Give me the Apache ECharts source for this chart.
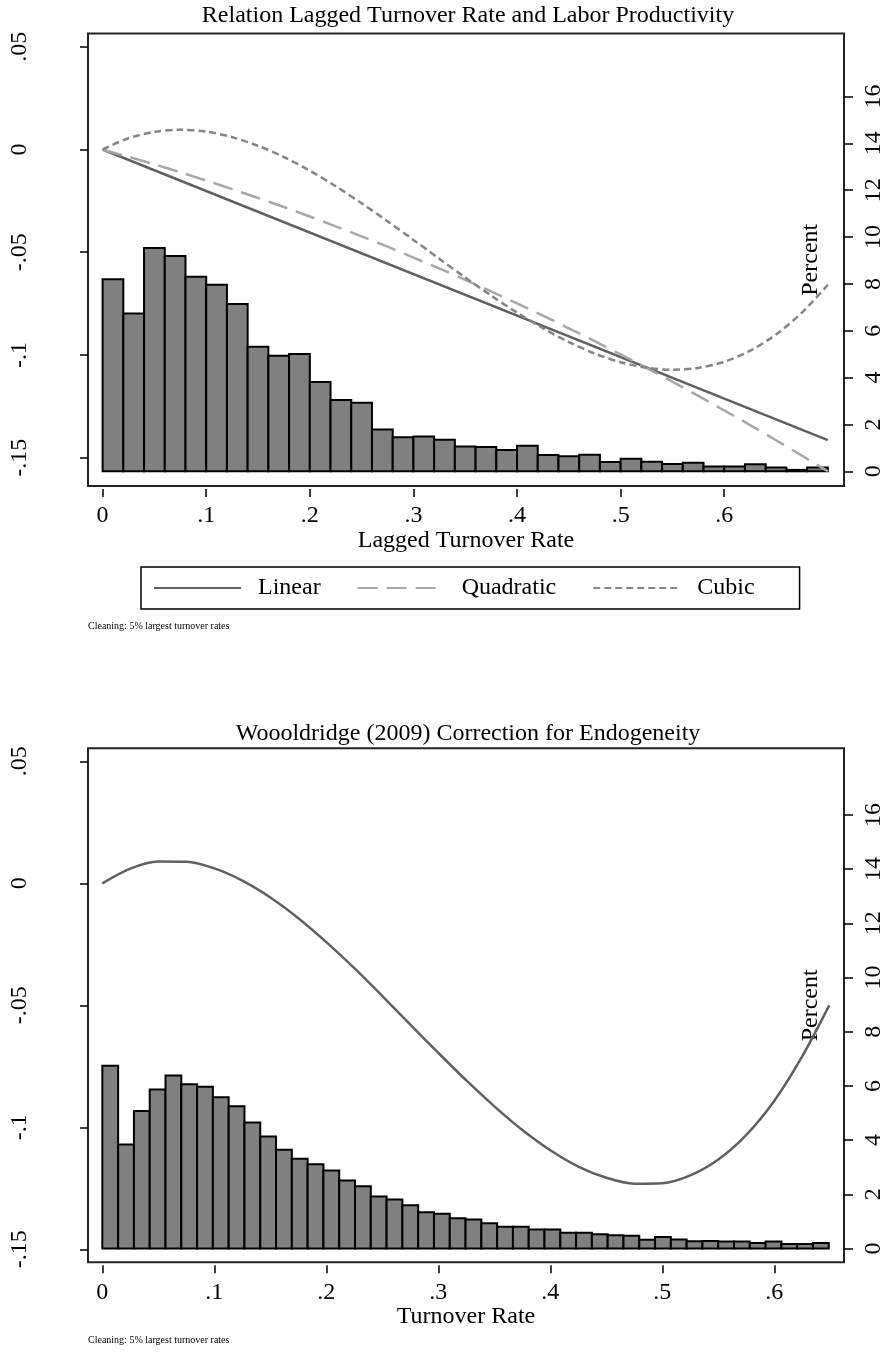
<!DOCTYPE html>
<html>
<head>
<meta charset="utf-8">
<script src="https://cdn.jsdelivr.net/npm/echarts@6/dist/echarts.min.js"></script>
<style>
  html, body { margin: 0; padding: 0; background: #fff; }
  #chart { width: 886px; height: 1356px; }
</style>
</head>
<body>
<div id="chart"></div>
<script>
// top panel - histogram of lagged turnover (percent per bin)
const topBinWidth = 0.02;
const topPercent = [8.2, 6.74, 9.53, 9.19, 8.3, 7.96, 7.14, 5.32, 4.93, 5.01, 3.81, 3.04, 2.93, 1.78, 1.45,
  1.48, 1.35, 1.06, 1.04, 0.91, 1.09, 0.7, 0.64, 0.71, 0.4, 0.54, 0.41, 0.31, 0.36, 0.2, 0.2, 0.3, 0.16, 0.06, 0.16];

// fitted curves
const linearX = [0, 0.7];
const linearFit = [0, -0.1414];
const topCurveX = [0, 0.025, 0.05, 0.075, 0.1, 0.125, 0.15, 0.175, 0.2, 0.225, 0.25, 0.275, 0.3, 0.325, 0.35,
  0.375, 0.4, 0.425, 0.45, 0.475, 0.5, 0.525, 0.55, 0.575, 0.6, 0.625, 0.65, 0.675, 0.7];
const quadraticFit = [0, -0.0036, -0.0072, -0.0111, -0.0151, -0.0193, -0.0236, -0.028, -0.0326, -0.0374, -0.0423,
  -0.0473, -0.0526, -0.0579, -0.0634, -0.0691, -0.0749, -0.0809, -0.087, -0.0933, -0.0997, -0.1063, -0.113,
  -0.1199, -0.127, -0.1341, -0.1415, -0.149, -0.1566];
const cubicFit = [0, 0.0055, 0.0086, 0.0096, 0.0087, 0.006, 0.0018, -0.0037, -0.0103, -0.0179, -0.0262, -0.0349,
  -0.044, -0.0532, -0.0623, -0.0711, -0.0794, -0.087, -0.0937, -0.0993, -0.1035, -0.1062, -0.1072, -0.1063,
  -0.1033, -0.0979, -0.09, -0.0794, -0.0658];

// bottom panel - histogram of turnover
const bottomBinWidth = 0.0141;
const bottomPercent = [6.74, 3.84, 5.07, 5.87, 6.38, 6.06, 5.97, 5.58, 5.25, 4.65, 4.13, 3.64, 3.31, 3.11, 2.88, 2.51,
  2.3, 1.92, 1.81, 1.6, 1.34, 1.28, 1.12, 1.07, 0.93, 0.8, 0.8, 0.7, 0.7, 0.58, 0.58, 0.53, 0.49, 0.47, 0.32, 0.42,
  0.33, 0.27, 0.28, 0.26, 0.26, 0.2, 0.26, 0.17, 0.17, 0.2];
const woolX = [0, 0.025, 0.05, 0.075, 0.1, 0.125, 0.15, 0.175, 0.2, 0.225, 0.25, 0.275, 0.3, 0.325, 0.35,
  0.375, 0.4, 0.425, 0.45, 0.475, 0.5, 0.525, 0.55, 0.575, 0.6, 0.625, 0.649];
const woolFit = [0, 0.006, 0.0089, 0.0088, 0.0061, 0.0011, -0.0058, -0.0143, -0.0241, -0.0348, -0.0462, -0.0579,
  -0.0695, -0.0808, -0.0914, -0.1011, -0.1094, -0.1161, -0.1207, -0.1231, -0.1229, -0.1197, -0.1132, -0.1031,
  -0.0891, -0.0708, -0.05];

// tick labels
const xTicks = [0, 0.1, 0.2, 0.3, 0.4, 0.5, 0.6];
const leftTicks = [-0.15, -0.1, -0.05, 0, 0.05];
const pctTicks = [0, 2, 4, 6, 8, 10, 12, 14, 16];

const serif = '"Liberation Serif", "DejaVu Serif", serif';

// stata style numbers: .1 instead of 0.1
function stataNum(v) {
  if (v === 0) return '0';
  return String(v).replace('0.', '.');
}

function zip(xs, ys) {
  return xs.map((x, i) => [x, ys[i]]);
}

function bins(pcts, w) {
  return pcts.map((p, i) => [i * w, (i + 1) * w, p]);
}

function histItem(params, api) {
  const p0 = api.coord([api.value(0), api.value(2)]);
  const p1 = api.coord([api.value(1), 0]);
  return {
    type: 'rect',
    shape: { x: p0[0], y: p0[1], width: p1[0] - p0[0], height: p1[1] - p0[1] },
    style: { fill: '#808080', stroke: '#000', lineWidth: 2 }
  };
}

function xAxisCfg(gridIndex, min, max, name) {
  return {
    type: 'value', gridIndex: gridIndex, min: min, max: max, offset: 3,
    name: name, nameLocation: 'middle', nameGap: 37,
    nameTextStyle: { fontFamily: serif, fontSize: 24, color: '#000' },
    axisLine: { show: false, onZero: false },
    splitLine: { show: false },
    axisTick: { show: true, length: 8, customValues: xTicks, lineStyle: { color: '#000', width: 1.5 } },
    axisLabel: { margin: 15, fontFamily: serif, fontSize: 24, color: '#000', customValues: xTicks, formatter: stataNum }
  };
}

function leftAxisCfg(gridIndex, min, max) {
  return {
    type: 'value', gridIndex: gridIndex, position: 'left', min: min, max: max,
    axisLine: { show: false, onZero: false },
    splitLine: { show: false },
    axisTick: { show: true, length: 8, customValues: leftTicks, lineStyle: { color: '#000', width: 1.5 } },
    axisLabel: { rotate: 90, margin: 56, fontFamily: serif, fontSize: 24, color: '#000', customValues: leftTicks, formatter: stataNum }
  };
}

function rightAxisCfg(gridIndex, min, max) {
  return {
    type: 'value', gridIndex: gridIndex, position: 'right', min: min, max: max,
    name: 'Percent', nameLocation: 'middle', nameGap: -45, nameRotate: 90,
    nameTextStyle: { fontFamily: serif, fontSize: 24, color: '#000' },
    axisLine: { show: false, onZero: false },
    splitLine: { show: false },
    axisTick: { show: true, length: 9, customValues: pctTicks, lineStyle: { color: '#000', width: 1.5 } },
    axisLabel: { rotate: 90, margin: 18, fontFamily: serif, fontSize: 24, color: '#000', customValues: pctTicks }
  };
}

const chart = echarts.init(document.getElementById('chart'));
chart.setOption({
  animation: false,
  backgroundColor: '#fff',
  title: [
    { text: 'Relation Lagged Turnover Rate and Labor Productivity', left: 468, top: 4, textAlign: 'center', padding: 0,
      textStyle: { fontFamily: serif, fontSize: 24, fontWeight: 'normal', color: '#000' } },
    { text: 'Woooldridge (2009) Correction for Endogeneity', left: 468, top: 722, textAlign: 'center', padding: 0,
      textStyle: { fontFamily: serif, fontSize: 24, fontWeight: 'normal', color: '#000' } }
  ],
  legend: {
    data: ['Linear', 'Quadratic', 'Cubic'],
    left: 141, top: 567,
    padding: [9, 45, 9, 12],
    borderColor: '#000', borderWidth: 1.5,
    itemWidth: 87, itemHeight: 14, itemGap: 36,
    itemStyle: { opacity: 0, color: 'rgba(0,0,0,0)', borderWidth: 0 },
    textStyle: { fontFamily: serif, fontSize: 24, color: '#000', padding: [0, 0, 0, 12] }
  },
  graphic: [
    { type: 'text', left: 88, top: 621, style: { text: 'Cleaning: 5% largest turnover rates', font: '10px ' + serif, fill: '#000' } },
    { type: 'text', left: 88, top: 1335, style: { text: 'Cleaning: 5% largest turnover rates', font: '10px ' + serif, fill: '#000' } }
  ],
  grid: [
    { left: 88, top: 33.5, width: 760, height: 452.5, show: true, borderColor: '#222', borderWidth: 2, backgroundColor: '#fff' },
    { left: 88, top: 748.3, width: 759, height: 514, show: true, borderColor: '#222', borderWidth: 2, backgroundColor: '#fff' }
  ],
  xAxis: [
    xAxisCfg(0, -0.0141, 0.7156, 'Lagged Turnover Rate'),
    xAxisCfg(1, -0.0128, 0.6622, 'Turnover Rate')
  ],
  yAxis: [
    leftAxisCfg(0, -0.16376, 0.05645),
    rightAxisCfg(0, -0.628, 18.69),
    leftAxisCfg(1, -0.15533, 0.05533),
    rightAxisCfg(1, -0.509, 18.458)
  ],
  series: [
    { type: 'custom', name: 'Histogram', xAxisIndex: 0, yAxisIndex: 1, renderItem: histItem,
      encode: { x: [0, 1], y: 2 }, data: bins(topPercent, topBinWidth), z: 1 },
    { type: 'line', name: 'Linear', xAxisIndex: 0, yAxisIndex: 0, data: zip(linearX, linearFit),
      showSymbol: false, symbol: 'none', color: '#606060', lineStyle: { color: '#606060', width: 2.5 }, z: 3 },
    { type: 'line', name: 'Quadratic', xAxisIndex: 0, yAxisIndex: 0, data: zip(topCurveX, quadraticFit), smooth: 0.3,
      showSymbol: false, symbol: 'none', color: '#a8a8a8', lineStyle: { color: '#a8a8a8', width: 2.5, type: [20, 9] }, z: 3 },
    { type: 'line', name: 'Cubic', xAxisIndex: 0, yAxisIndex: 0, data: zip(topCurveX, cubicFit), smooth: 0.3,
      showSymbol: false, symbol: 'none', color: '#858585', lineStyle: { color: '#858585', width: 2.5, type: [7, 4] }, z: 3 },
    { type: 'custom', name: 'Histogram 2', xAxisIndex: 1, yAxisIndex: 3, renderItem: histItem,
      encode: { x: [0, 1], y: 2 }, data: bins(bottomPercent, bottomBinWidth), z: 1 },
    { type: 'line', name: 'Correction', xAxisIndex: 1, yAxisIndex: 2, data: zip(woolX, woolFit), smooth: 0.3,
      showSymbol: false, symbol: 'none', color: '#606060', lineStyle: { color: '#606060', width: 2.5 }, z: 3 }
  ]
});
</script>
</body>
</html>
